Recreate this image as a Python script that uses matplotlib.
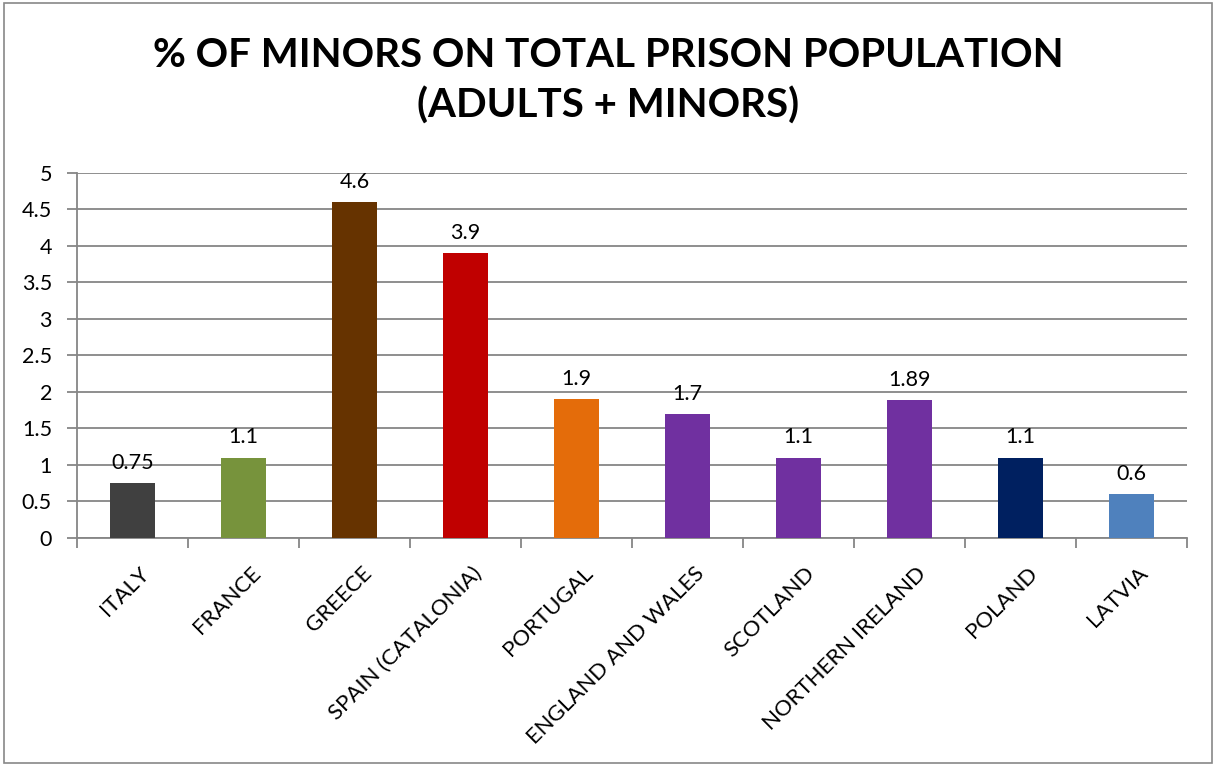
import matplotlib.pyplot as plt
import numpy as np

# ─── Data ─────────────────────────────────────────────────────────────────────

countries = ["ITALY", "FRANCE", "GREECE", "SPAIN (CATALONIA)", "PORTUGAL",
             "ENGLAND AND WALES", "SCOTLAND", "NORTHERN IRELAND", "POLAND", "LATVIA"]
values = [0.75, 1.1, 4.6, 3.9, 1.9, 1.7, 1.1, 1.89, 1.1, 0.6]
labels = ["0.75", "1.1", "4.6", "3.9", "1.9", "1.7", "1.1", "1.89", "1.1", "0.6"]
colors = ["#404040", "#77933C", "#663300", "#C00000", "#E46C0A",
          "#7030A0", "#7030A0", "#7030A0", "#002060", "#4F81BD"]
yticks = [0, 0.5, 1, 1.5, 2, 2.5, 3, 3.5, 4, 4.5, 5]
ytick_labels = ["0", "0.5", "1", "1.5", "2", "2.5", "3", "3.5", "4", "4.5", "5"]

TITLE = "% OF MINORS ON TOTAL PRISON POPULATION\n(ADULTS + MINORS)"
GRID = "#868686"

plt.rcParams["font.family"] = ["Lato", "DejaVu Sans"]


def main():
    fig = plt.figure(figsize=(12.16, 7.66), dpi=100)
    ax = fig.add_axes([0.0633, 0.2977, 0.9127, 0.4765])

    x = np.arange(len(countries))
    ax.bar(x, values, width=0.4, color=colors, zorder=3)

    for xi, v, lab in zip(x, values, labels):
        ax.text(xi, v + 0.14, lab, ha="center", va="bottom", fontsize=15.5, color="black")

    ax.set_xlim(-0.5, len(countries) - 0.5)
    ax.set_ylim(0, 5)
    ax.set_yticks(yticks)
    ax.set_yticklabels(ytick_labels, fontsize=15.5)
    ax.yaxis.grid(True, color=GRID, linewidth=1.3, zorder=0)

    ax.set_xticks(x + 0.06)
    ax.set_xticklabels(countries, rotation=45, ha="right", rotation_mode="anchor", fontsize=16)
    ax.tick_params(axis="x", which="major", length=0, pad=18)
    ax.set_xticks(np.arange(-0.5, len(countries)), minor=True)
    ax.tick_params(axis="x", which="minor", length=7, color=GRID, width=1.3)
    ax.tick_params(axis="y", length=7, color=GRID, width=1.3, pad=11)

    for side in ["top", "right"]:
        ax.spines[side].set_visible(False)
    for side in ["left", "bottom"]:
        ax.spines[side].set_color(GRID)
        ax.spines[side].set_linewidth(1.3)

    fig.text(0.5, 0.895, TITLE, ha="center", va="center", fontsize=29,
             fontweight="bold", linespacing=1.4)

    # chart border
    fig.patches.append(plt.Rectangle((0.003, 0.004), 0.994, 0.992, transform=fig.transFigure,
                                     fill=False, edgecolor="#888888", linewidth=1.2))

    fig.savefig("out.png", dpi=100)


if __name__ == "__main__":
    main()
